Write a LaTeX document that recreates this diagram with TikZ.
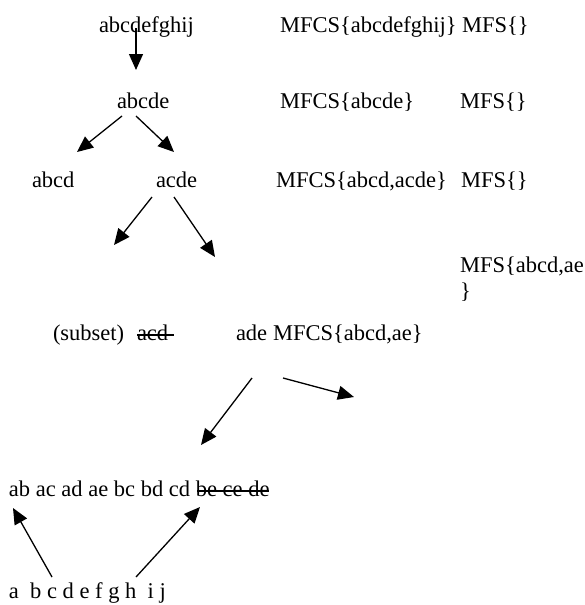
\documentclass[tikz,border=0pt]{standalone}
\usepackage{fontspec}
\setmainfont{Liberation Serif}
\usetikzlibrary{arrows.meta,calc}

\begin{document}
\begin{tikzpicture}[x=1pt,y=1pt]
% Plain text rows with arrows in between.
\tikzstyle{txt}=[anchor=base west,inner sep=0pt,outer sep=0pt,font=\fontsize{22.5}{26}\selectfont]
\tikzstyle{arr}=[line width=1.3pt,-{Triangle[length=16pt,width=14pt]}]
\tikzstyle{strike}=[line width=1.2pt]

\useasboundingbox (0,0) rectangle (584,-605);

% This draws the first row.
\node[txt] (top) at (99,-32) {abcdefghij};
\node[txt] (mfcsA) at (280,-32) {MFCS\{abcdefghij\}};
\node[txt] (mfsA) at (462,-32) {MFS\{\}};

% This draws the second row.
\node[txt] (five) at (117,-108) {abcde};
\node[txt] (mfcsB) at (280,-108) {MFCS\{abcde\}};
\node[txt] (mfsB) at (460,-108) {MFS\{\}};

% This draws the third row.
\node[txt] (fourA) at (32,-187) {abcd};
\node[txt] (fourB) at (156,-187) {acde};
\node[txt] (mfcsC) at (276,-187) {MFCS\{abcd,acde\}};
\node[txt] (mfsC) at (461,-187) {MFS\{\}};

% This draws the MFS note and its brace on the next line.
\node[txt] (mfsD) at (460,-272) {MFS\{abcd,ae};
\node[txt] (mfsE) at (460,-298) {\}};

% This draws the subset row.
\node[txt] (sub) at (53,-340) {(subset)};
\node[txt] (three) at (137,-340) {acd};
\node[txt] (ade) at (236,-340) {ade};
\node[txt] (mfcsD) at (273,-340) {MFCS\{abcd,ae\}};
\draw[strike] ($(three.base west)+(0,5)$) -- ($(three.base east)+(6,5)$);

% This draws the pairs and the single items.
\node[txt] (pairs) at (9,-496) {ab ac ad ae bc bd cd be ce de};
\node[txt] (ones) at (9,-598) {a\ \ b c d e f g h\ \ i j};
\draw[strike] ($(pairs.base east)+(-72,5)$) -- ($(pairs.base east)+(0,5)$);

% Arrow end points.
\coordinate (a1) at (136,-28);  \coordinate (b1) at (136,-70);
\coordinate (a2) at (122,-116); \coordinate (b2) at (77,-152);
\coordinate (a3) at (136,-116); \coordinate (b3) at (174,-152);
\coordinate (a4) at (152,-197); \coordinate (b4) at (114,-245);
\coordinate (a5) at (174,-197); \coordinate (b5) at (215,-257);
\coordinate (a6) at (252,-378); \coordinate (b6) at (201,-445);
\coordinate (a7) at (283,-378); \coordinate (b7) at (354,-397);
\coordinate (a8) at (52,-577);  \coordinate (b8) at (13,-508);
\coordinate (a9) at (136,-577); \coordinate (b9) at (200,-507);

% This draws the arrows.
\foreach \i in {1,...,9}
  \draw[arr] (a\i) -- (b\i);

\end{tikzpicture}
\end{document}
